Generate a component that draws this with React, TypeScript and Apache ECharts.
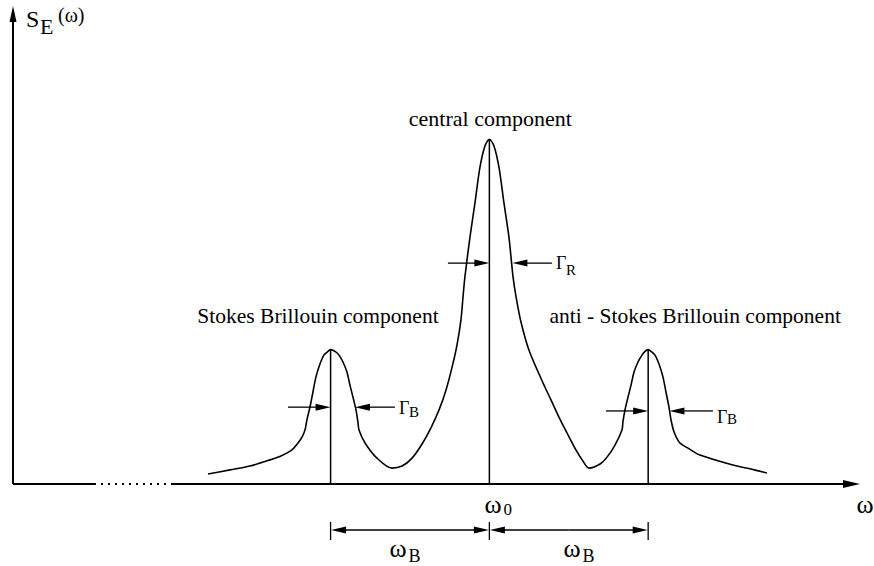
import React, { useEffect, useRef } from 'react';
import * as echarts from 'echarts';

// ω is measured from ω0 in units of the Brillouin shift ωB; S is scaled to the central peak.
const OMEGA_MIN = -3;
const OMEGA_MAX = 2.334;
const S_MAX = 1.39;

// Spectral density S_E(ω): Stokes line, central (Rayleigh) line, anti-Stokes line
const spectrumOmega = [
  -1.772, -1.634, -1.508, -1.382, -1.306, -1.243, -1.205, -1.18, -1.161,
  -1.149, -1.13, -1.111, -1.092, -1.067, -1.042, -1.016, -1.0, -0.972, -0.947,
  -0.922, -0.897, -0.878, -0.859, -0.84, -0.828, -0.821,
  -0.783, -0.708, -0.613, -0.55, -0.487, -0.424, -0.368, -0.317, -0.273, -0.236, -0.204,
  -0.179, -0.166, -0.154, -0.122, -0.091, -0.059, -0.028, 0, 0.029, 0.06,
  0.092, 0.123, 0.149, 0.168, 0.199, 0.249, 0.338, 0.388, 0.438, 0.489, 0.545, 0.589, 0.627,
  0.697, 0.741, 0.791, 0.835,
  0.841, 0.854, 0.873, 0.892, 0.911, 0.936, 0.961, 0.98, 1.0, 1.018, 1.043,
  1.068, 1.093, 1.112, 1.131, 1.144, 1.163,
  1.2, 1.251, 1.326, 1.534, 1.641, 1.748,
];
const spectrumS = [
  0.029, 0.041, 0.052, 0.07, 0.083, 0.099, 0.119, 0.136, 0.157,
  0.186, 0.223, 0.267, 0.311, 0.348, 0.374, 0.385, 0.39, 0.385, 0.374,
  0.354, 0.325, 0.287, 0.252, 0.215, 0.18, 0.157,
  0.119, 0.075, 0.046, 0.052, 0.075, 0.116, 0.163, 0.215, 0.273, 0.337, 0.403,
  0.476, 0.543, 0.601, 0.717, 0.815, 0.92, 0.981, 1.0, 0.981, 0.92,
  0.815, 0.717, 0.601, 0.543, 0.47, 0.389, 0.293, 0.244, 0.194, 0.148, 0.099, 0.067, 0.046,
  0.058, 0.078, 0.113, 0.157,
  0.18, 0.215, 0.252, 0.287, 0.325, 0.354, 0.374, 0.385, 0.39, 0.385, 0.374,
  0.348, 0.311, 0.267, 0.223, 0.186, 0.151,
  0.119, 0.104, 0.084, 0.055, 0.044, 0.032,
];

// The three spectral components
const peakNames = ['Stokes Brillouin component', 'central component', 'anti - Stokes Brillouin component'];
const peakOmega = [-1, 0, 1];
const peakS = [0.39, 1, 0.39];

// Line-width markers: level, tail of the inner arrow, tail of the outer arrow, where the outer arrow meets the line
const widthLevel = [0.223, 0.641, 0.212];
const widthInnerTail = [-1.268, -0.261, 0.734];
const widthOuterTail = [-0.595, 0.394, 1.408];
const widthOuterTip = [-0.847, 0.145, 1.134];
const widthSubscript = ['B', 'R', 'B'];

// Broken stretch of the ω axis
const axisBreakStart = -2.49;
const axisBreakEnd = -2.005;

const FONT = '"Liberation Serif", "Times New Roman", serif';

const renderAnnotations = (_params: any, api: any) => {
  const pt = (u: number, v: number): number[] => api.coord([u, v]);
  const kids: any[] = [];
  const ink = '#000';

  const seg = (a: number[], b: number[], w: number, dash?: number[]) =>
    kids.push({
      type: 'line',
      shape: { x1: a[0], y1: a[1], x2: b[0], y2: b[1] },
      style: { stroke: ink, lineWidth: w, lineDash: dash },
    });

  const arrow = (tail: number[], tip: number[], len = 15, hw = 3.5, w = 1.3) => {
    const dx = tip[0] - tail[0];
    const dy = tip[1] - tail[1];
    const d = Math.hypot(dx, dy) || 1;
    const ux = dx / d;
    const uy = dy / d;
    const bx = tip[0] - ux * len;
    const by = tip[1] - uy * len;
    kids.push({
      type: 'polygon',
      shape: { points: [[tip[0], tip[1]], [bx - uy * hw, by + ux * hw], [bx + uy * hw, by - ux * hw]] },
      style: { fill: ink },
    });
    seg(tail, [bx + ux, by + uy], w);
  };

  const label = (s: string, x: number, y: number, size: number, align = 'left') =>
    kids.push({
      type: 'text',
      style: {
        text: s,
        x,
        y,
        fill: ink,
        fontSize: size,
        fontFamily: FONT,
        font: `${size}px ${FONT}`,
        align,
        verticalAlign: 'middle',
        textAlign: align,
        textVerticalAlign: 'middle',
      },
    });

  // axes
  const origin = pt(OMEGA_MIN, 0);
  const top = pt(OMEGA_MIN, S_MAX);
  arrow(origin, [origin[0], top[1] + 1], 16, 3.5, 2);
  seg(origin, pt(axisBreakStart, 0), 2);
  seg(pt(axisBreakStart, 0), pt(axisBreakEnd, 0), 2, [2, 5]);
  const xEnd = pt(OMEGA_MAX, 0);
  arrow(pt(axisBreakEnd, 0), xEnd, 17, 4, 2);

  // axis titles
  label('S', top[0] + 13, top[1] + 13.5, 24);
  label('E', top[0] + 27, top[1] + 21, 22);
  label('(ω)', top[0] + 45, top[1] + 9.5, 20);
  label('ω', xEnd[0] + 5, xEnd[1] + 20, 26, 'center');

  // component stems, names and width markers
  const nameOffsets = [[-12.6, -34], [1, -21], [47, -34]];
  const nameSizes = [21.5, 22, 21.5];
  const gammaDy = [1, 0, 6];
  const subDy = [4, 6.5, 2.5];
  for (let i = 0; i < peakOmega.length; i++) {
    const base = pt(peakOmega[i], 0);
    const peak = pt(peakOmega[i], peakS[i]);
    seg(base, peak, 1.5);
    label(peakNames[i], peak[0] + nameOffsets[i][0], peak[1] + nameOffsets[i][1], nameSizes[i], 'center');

    const lv = widthLevel[i];
    arrow(pt(widthInnerTail[i], lv), pt(peakOmega[i], lv));
    const tail = pt(widthOuterTail[i], lv);
    arrow(tail, pt(widthOuterTip[i], lv));
    label('Γ', tail[0] + 4, tail[1] + gammaDy[i], 18);
    label(widthSubscript[i], tail[0] + 14, tail[1] + gammaDy[i] + subDy[i], 15);
  }

  // ω0 and the Brillouin shifts ωB below the axis
  const left = pt(peakOmega[0], 0);
  const mid = pt(peakOmega[1], 0);
  const right = pt(peakOmega[2], 0);
  const dimY = mid[1] + 46;
  for (const p of [left, mid, right]) seg([p[0], dimY - 8], [p[0], dimY + 10], 1.3);
  const half1 = [(left[0] + mid[0]) / 2, dimY];
  const half2 = [(mid[0] + right[0]) / 2, dimY];
  arrow(half1, [left[0] + 0.5, dimY]);
  arrow(half1, [mid[0] - 0.5, dimY]);
  arrow(half2, [mid[0] + 0.5, dimY]);
  arrow(half2, [right[0] - 0.5, dimY]);

  label('ω', mid[0] - 5, mid[1] + 20, 26);
  label('0', mid[0] + 14, mid[1] + 25, 17);
  label('ω', left[0] + 59, mid[1] + 64, 26);
  label('B', left[0] + 78, mid[1] + 72, 18);
  label('ω', mid[0] + 74, mid[1] + 64, 26);
  label('B', mid[0] + 93, mid[1] + 72, 18);

  return { type: 'group', children: kids };
};

export default function App() {
  const ref = useRef<HTMLDivElement>(null);

  useEffect(() => {
    const chart = echarts.init(ref.current as HTMLDivElement, undefined, { renderer: 'svg' });
    chart.setOption({
      animation: false,
      backgroundColor: '#fff',
      grid: { left: 13, top: 5, width: 847, height: 479 },
      xAxis: { type: 'value', min: OMEGA_MIN, max: OMEGA_MAX, show: false },
      yAxis: { type: 'value', min: 0, max: S_MAX, show: false },
      series: [
        {
          type: 'line',
          data: spectrumOmega.map((w, i) => [w, spectrumS[i]]),
          showSymbol: false,
          smooth: 0.3,
          lineStyle: { color: '#000', width: 1.6 },
          silent: true,
          z: 2,
        },
        {
          type: 'custom',
          coordinateSystem: 'cartesian2d',
          data: [[0, 0]],
          renderItem: renderAnnotations,
          clip: false,
          silent: true,
          z: 3,
        },
      ],
    });
    return () => chart.dispose();
  }, []);

  return (
    <div
      ref={ref}
      style={{ position: 'fixed', left: 0, top: 0, width: 874, height: 566, background: '#fff' }}
    />
  );
}
